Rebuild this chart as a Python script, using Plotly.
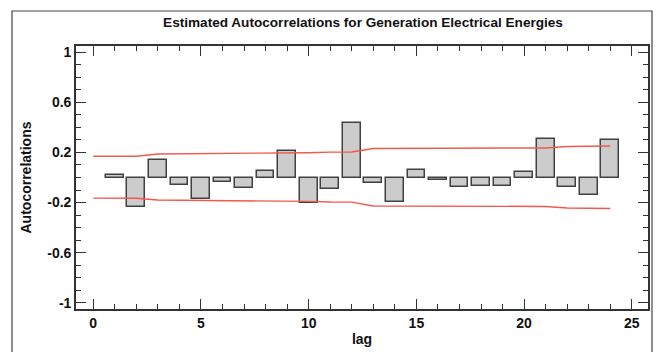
import plotly.graph_objects as go

lags = list(range(1, 25))
acf = [0.02, -0.235, 0.138, -0.056, -0.168, -0.035, -0.085, 0.05, 0.212, -0.2,
       -0.093, 0.433, -0.04, -0.195, 0.056, -0.017, -0.072, -0.064, -0.064, 0.042,
       0.308, -0.072, -0.139, 0.303]

limit_lags = list(range(0, 25))
upper = [0.170, 0.170, 0.170, 0.188, 0.189, 0.191, 0.193, 0.193, 0.194, 0.194,
         0.198, 0.203, 0.204, 0.232, 0.232, 0.234, 0.234, 0.234, 0.235, 0.235,
         0.236, 0.236, 0.248, 0.248, 0.252]
lower = [-0.165, -0.165, -0.166, -0.180, -0.181, -0.183, -0.185, -0.185, -0.187, -0.187,
         -0.191, -0.196, -0.197, -0.227, -0.228, -0.229, -0.229, -0.229, -0.230, -0.230,
         -0.231, -0.231, -0.243, -0.244, -0.247]

y_tickvals = [-1, -0.6, -0.2, 0.2, 0.6, 1]
y_ticktext = ["-1", "-0.6", "-0.2", "0.2", "0.6", "1"]
x_tickvals = [0, 5, 10, 15, 20, 25]
x_ticktext = ["0", "5", "10", "15", "20", "25"]

title_text = "Estimated Autocorrelations for Generation Electrical Energies"
x_title = "lag"
y_title = "Autocorrelations"

fig = go.Figure()
fig.add_trace(go.Bar(x=lags, y=acf, width=0.82,
                     marker=dict(color="#cccccc", line=dict(color="#404040", width=1.5)),
                     showlegend=False))
fig.add_trace(go.Scatter(x=limit_lags, y=upper, mode="lines",
                         line=dict(color="#f2594c", width=1.4), showlegend=False))
fig.add_trace(go.Scatter(x=limit_lags, y=lower, mode="lines",
                         line=dict(color="#f2594c", width=1.4), showlegend=False))

W, H = 661, 352
L, R, T, B = 76, 13, 46, 43
pw, ph = W - L - R, H - T - B

def px(xp):
    return (xp - L) / pw

def py(yp):
    return (H - B - yp) / ph

fig.add_shape(type="rect", xref="paper", yref="paper",
              x0=px(12), x1=px(652), y0=py(400), y1=py(11),
              line=dict(color="#444444", width=1.2), fillcolor="rgba(0,0,0,0)", layer="below")

tickfont = dict(family="Liberation Sans, Arial, sans-serif", size=14, color="#111111", weight="bold")
titlefont = dict(family="Liberation Sans, Arial, sans-serif", size=14, color="#111111", weight="bold")

fig.update_layout(
    width=W, height=H,
    margin=dict(l=L, r=R, t=T, b=B, autoexpand=False),
    paper_bgcolor="white", plot_bgcolor="white",
    title=dict(text=title_text, x=px(363), xref="paper", xanchor="center",
               y=1 - 22 / H, yref="container", yanchor="middle",
               font=dict(family="Liberation Sans, Arial, sans-serif",
                         size=13.6, color="#111111", weight="bold")),
    bargap=0,
)
fig.update_xaxes(range=[-0.8, 25.75], tickmode="array", tickvals=x_tickvals, ticktext=x_ticktext,
                 ticks="inside", ticklen=10, tickwidth=1.2, tickcolor="#333333",
                 minor=dict(ticks="inside", ticklen=5, tickmode="linear", dtick=1, tick0=0,
                            tickcolor="#333333", tickwidth=1),
                 showline=True, linecolor="#333333", linewidth=1.6, mirror="ticks",
                 showgrid=False, zeroline=False, tickfont=tickfont, automargin=False,
                 title=dict(text=x_title, font=titlefont, standoff=5))
fig.update_yaxes(range=[-1.05, 1.05], tickmode="array", tickvals=y_tickvals, ticktext=y_ticktext,
                 ticks="inside", ticklen=10, tickwidth=1.2, tickcolor="#333333",
                 minor=dict(ticks="inside", ticklen=5, tickmode="linear", dtick=0.1, tick0=0,
                            tickcolor="#333333", tickwidth=1),
                 showline=True, linecolor="#333333", linewidth=1.6, mirror="ticks",
                 showgrid=False, zeroline=False, tickfont=tickfont, automargin=False,
                 title=dict(text=y_title, font=titlefont, standoff=12))

fig.write_html("out.html", config={"displayModeBar": False},
               post_script="document.body.style.margin='0';document.body.style.overflow='hidden';")
